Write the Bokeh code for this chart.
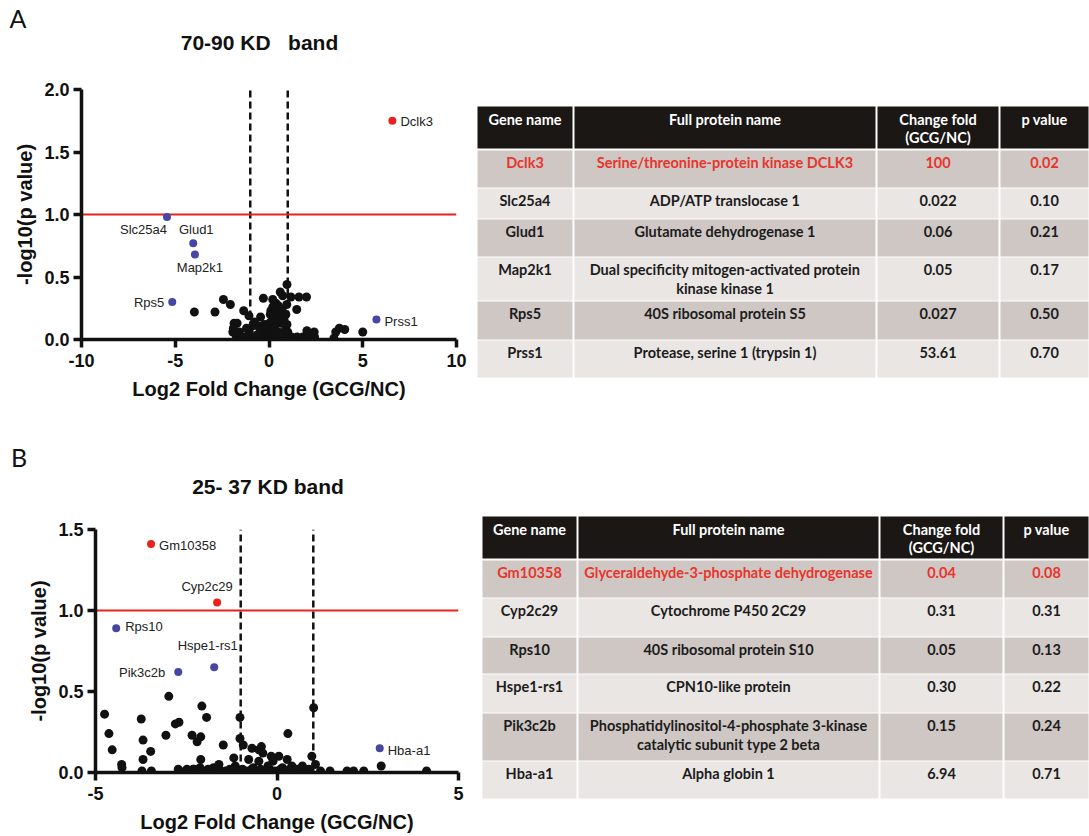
from bokeh.plotting import figure
from bokeh.models import Range1d, FixedTicker, NumeralTickFormatter, ColumnDataSource
from bokeh.layouts import row, column
from bokeh.embed import file_html
from bokeh.resources import INLINE
from bokeh.core.properties import value, field

# ---------------- data: panel A (70-90 KD band) ----------------
a_ns_x = [-3.98, -2.88, -2.43, -2.06, -1.35, -1.07, -0.30, 0.20, 0.37, 0.60,
          0.73, 0.96, 1.17, 1.60, 2.00, 1.48, 0.10, 0.20, 0.50, -0.45,
          -0.78, -1.86, -1.70, -1.93, -1.58, -1.05, -0.87, -0.60, -0.25, 0.02,
          0.28, 0.64, 0.90, 0.96, -0.45, -0.10, 0.20, 0.50, 0.85, -1.60,
          -1.30, -0.95, -0.70, -0.50, -0.30, -0.15, 0.00, 0.10, 0.25, 0.40,
          0.55, 0.70, 0.85, 1.00, 1.20, 1.50, 1.80, 2.02, 2.41, 2.43,
          2.15, 3.46, 3.56, 3.75, 4.04, 5.00, -0.20, 0.05, 0.35, 0.65,
          -0.60, 0.30, 0.45, 0.55, 0.80, -0.10, 0.15, 0.70, -1.20, 0.95,
          0.40, 1.00, 0.07, 0.28, -1.90, -1.75]
a_ns_y = [0.22, 0.22, 0.32, 0.28, 0.23, 0.19, 0.33, 0.32, 0.29, 0.38,
          0.35, 0.44, 0.34, 0.34, 0.34, 0.24, 0.23, 0.26, 0.27, 0.18,
          0.14, 0.13, 0.13, 0.06, 0.06, 0.06, 0.11, 0.11, 0.12, 0.13,
          0.12, 0.13, 0.20, 0.12, 0.07, 0.07, 0.06, 0.06, 0.07, 0.02,
          0.02, 0.02, 0.02, 0.02, 0.01, 0.02, 0.01, 0.03, 0.02, 0.01,
          0.02, 0.01, 0.02, 0.01, 0.02, 0.02, 0.02, 0.07, 0.06, 0.02,
          0.03, 0.01, 0.06, 0.09, 0.08, 0.06, 0.04, 0.05, 0.04, 0.04,
          0.04, 0.09, 0.16, 0.20, 0.16, 0.10, 0.15, 0.24, 0.09, 0.28,
          0.21, 0.06, 0.20, 0.26, 0.09, 0.03]
a_gene = ["Dclk3", "Slc25a4", "Glud1", "Map2k1", "Rps5", "Prss1"]
a_gene_x = [6.58, -5.44, -4.04, -3.95, -5.16, 5.73]
a_gene_y = [1.75, 0.98, 0.77, 0.68, 0.30, 0.16]
a_gene_sig = [True, False, False, False, False, False]

a_tab_protein = ["Serine/threonine-protein kinase DCLK3", "ADP/ATP translocase 1",
                 "Glutamate dehydrogenase 1",
                 "Dual specificity mitogen-activated protein\nkinase kinase 1",
                 "40S ribosomal protein S5", "Protease, serine 1 (trypsin 1)"]
a_tab_fold = ["100", "0.022", "0.06", "0.05", "0.027", "53.61"]
a_tab_p = ["0.02", "0.10", "0.21", "0.17", "0.50", "0.70"]
a_tab_highlight = [True, False, False, False, False, False]

# ---------------- data: panel B (25-37 KD band) ----------------
b_ns_x = [-4.75, -4.63, -4.54, -4.28, -4.27, -3.74, -3.69, -3.48, -3.69, -3.72,
          -3.46, -3.06, -2.98, -2.80, -2.70, -2.48, -2.34, -2.20, -2.10, -2.07,
          -1.94, -2.10, -2.12, -1.48, -1.19, -1.02, -1.02, -0.93, -0.69, -0.78,
          -0.43, -0.50, -0.39, -0.16, 0.05, -0.11, 0.28, -0.50, -1.15, 0.41,
          0.30, 1.01, 0.96, 1.06, 2.87, 4.12, -2.72, -2.52, -2.30, -2.05,
          -1.90, -1.75, -1.60, -1.42, -1.30, -1.10, -0.95, -0.85, -0.70, -0.60,
          -0.45, -0.30, -0.20, -0.05, 0.10, 0.20, 0.35, 0.50, 0.60, 0.75,
          0.88, 1.20, 1.46, 1.93, 2.11, 2.39, -1.75, -1.20, -0.65, 0.15,
          0.55, -2.30, -1.60, -0.25, 0.70]
b_ns_y = [0.36, 0.24, 0.14, 0.05, 0.03, 0.33, 0.20, 0.13, 0.08, 0.01,
          0.01, 0.23, 0.47, 0.30, 0.31, 0.02, 0.23, 0.19, 0.22, 0.41,
          0.34, 0.08, 0.03, 0.17, 0.09, 0.34, 0.21, 0.17, 0.15, 0.08,
          0.16, 0.14, 0.12, 0.10, 0.10, 0.07, 0.08, 0.07, 0.04, 0.04,
          0.24, 0.40, 0.10, 0.05, 0.04, 0.01, 0.02, 0.01, 0.02, 0.01,
          0.02, 0.01, 0.02, 0.01, 0.02, 0.01, 0.02, 0.01, 0.02, 0.01,
          0.02, 0.01, 0.02, 0.01, 0.02, 0.01, 0.02, 0.01, 0.02, 0.01,
          0.02, 0.01, 0.01, 0.01, 0.01, 0.01, 0.03, 0.02, 0.03, 0.03,
          0.02, 0.02, 0.05, 0.04, 0.04]
b_gene = ["Gm10358", "Cyp2c29", "Rps10", "Hspe1-rs1", "Pik3c2b", "Hba-a1"]
b_gene_x = [-3.47, -1.65, -4.43, -1.73, -2.72, 2.83]
b_gene_y = [1.41, 1.05, 0.89, 0.65, 0.62, 0.15]
b_gene_sig = [True, True, False, False, False, False]

b_tab_protein = ["Glyceraldehyde-3-phosphate dehydrogenase", "Cytochrome P450 2C29",
                 "40S ribosomal protein S10", "CPN10-like protein",
                 "Phosphatidylinositol-4-phosphate 3-kinase\ncatalytic subunit type 2 beta",
                 "Alpha globin 1"]
b_tab_fold = ["0.04", "0.31", "0.05", "0.30", "0.15", "6.94"]
b_tab_p = ["0.08", "0.31", "0.13", "0.22", "0.24", "0.71"]
b_tab_highlight = [True, False, False, False, False, False]

tab_headers = ["Gene name", "Full protein name", "Change fold\n(GCG/NC)", "p value"]
fold_thresholds = [-1, 1]
p_threshold = 1.0

# ---------------- styles ----------------
RED = "#E8231E"
BLUE = "#4747A3"
BLACK = "#111111"
AX_FONT = "Liberation Sans"
TAB_FONT = "Lato"
HEAD_FILL = "#1A1715"
DARK_FILL = "#CEC7C3"
LIGHT_FILL = "#EAE6E4"
TAB_RED = "#E8342C"
TAB_TXT = "#1C1C1C"


def no_align(p):
    if "frame_align" in p.properties():
        p.frame_align = False
    return p


def blank(w, h):
    p = figure(width=w, height=h, x_range=Range1d(0, w), y_range=Range1d(h, 0),
               output_backend="svg", toolbar_location=None, min_border=0,
               x_axis_location=None, y_axis_location=None)
    p.outline_line_color = None
    for g in p.grid:
        g.visible = False
    return no_align(p)


def header(w, h, letter, letter_xy, title, title_xy):
    p = blank(w, h)
    p.text(x=[letter_xy[0]], y=[letter_xy[1]], text=[letter], text_align="center",
           text_baseline="middle", text_font=value(TAB_FONT), text_font_size="25px",
           text_color=BLACK)
    # keep the wide gaps of the original title (SVG collapses plain spaces)
    shown = title.replace("   ", "\u00a0\u00a0\u00a0")
    p.text(x=[title_xy[0]], y=[title_xy[1]], text=[shown], text_align="center",
           text_baseline="middle", text_font=value(AX_FONT), text_font_style="bold",
           text_font_size="21px", text_color=BLACK)
    return p


def volcano(w, h, borders, xlim, ymax, xticks, yticks, ns_x, ns_y,
            gene, gx, gy, gsig, lab_dx, lab_dy, lab_al):
    bl, br, bt, bb = borders
    p = figure(width=w, height=h, x_range=Range1d(xlim[0], xlim[1]),
               y_range=Range1d(0, ymax), output_backend="svg",
               toolbar_location=None, min_border_left=bl, min_border_right=br,
               min_border_top=bt, min_border_bottom=bb)
    no_align(p)
    p.outline_line_color = None
    p.xgrid.visible = False
    p.ygrid.visible = False
    p.segment(x0=fold_thresholds, y0=[0, 0], x1=fold_thresholds, y1=[ymax, ymax],
              line_color=BLACK, line_width=2.5, line_dash="7 4")
    p.segment(x0=[xlim[0]], y0=[p_threshold], x1=[xlim[1]], y1=[p_threshold],
              line_color=RED, line_width=2)
    p.scatter(x=ns_x, y=ns_y, size=9, fill_color=BLACK, line_color=None)
    src = ColumnDataSource(dict(x=gx, y=gy, name=gene,
                                c=[RED if s else BLUE for s in gsig],
                                dx=lab_dx, dy=lab_dy, al=lab_al))
    p.scatter("x", "y", source=src, size=8, fill_color="c", line_color=None)
    p.text("x", "y", text="name", source=src, x_offset=field("dx"), y_offset=field("dy"),
           text_align=field("al"), text_baseline="middle", text_font=value(AX_FONT),
           text_font_size="13px", text_color="#222222")

    xa = p.xaxis[0]
    xa.bounds = tuple(xlim)
    xa.ticker = FixedTicker(ticks=xticks)
    xa.formatter = NumeralTickFormatter(format="0")
    xa.axis_label = "Log2 Fold Change (GCG/NC)"
    ya = p.yaxis[0]
    ya.bounds = (0, ymax)
    ya.ticker = FixedTicker(ticks=yticks)
    ya.formatter = NumeralTickFormatter(format="0.0")
    ya.axis_label = "-log10(p value)"
    for ax in (xa, ya):
        ax.axis_line_width = 3.5
        ax.axis_line_color = BLACK
        ax.major_tick_line_width = 3.5
        ax.major_tick_line_color = BLACK
        ax.major_tick_in = 0
        ax.major_tick_out = 8
        ax.minor_tick_line_color = None
        ax.major_label_text_font = AX_FONT
        ax.major_label_text_font_style = "bold"
        ax.major_label_text_font_size = "18px"
        ax.major_label_text_color = BLACK
        ax.major_label_standoff = 4
        ax.axis_label_text_font = AX_FONT
        ax.axis_label_text_font_style = "bold"
        ax.axis_label_text_font_size = "20px"
        ax.axis_label_text_color = BLACK
        ax.axis_label_standoff = 5
    xa.major_label_standoff = 6
    xa.axis_label_standoff = 8
    return p


def table(w, h, col_edges, head_top, head_bot, row_tops, row_bots, columns, highlight):
    t = blank(w, h)
    nc = len(col_edges) - 1
    L, R, T, B, F = [], [], [], [], []
    for c in range(nc):
        L.append(col_edges[c] + 1); R.append(col_edges[c + 1] - 1)
        T.append(head_top); B.append(head_bot); F.append(HEAD_FILL)
    for r, (rt, rb) in enumerate(zip(row_tops, row_bots)):
        for c in range(nc):
            L.append(col_edges[c] + 1); R.append(col_edges[c + 1] - 1)
            T.append(rt); B.append(rb); F.append(DARK_FILL if r % 2 == 0 else LIGHT_FILL)
    t.quad(left=L, right=R, top=T, bottom=B, fill_color=F, line_color=None)

    centers = [(col_edges[c] + col_edges[c + 1]) / 2 for c in range(nc)]
    tx, ty, tt, tc = [], [], [], []
    for c, hd in enumerate(tab_headers):
        for i, line in enumerate(hd.split("\n")):
            tx.append(centers[c]); ty.append(head_top + 13 + 18 * i)
            tt.append(line); tc.append("white")
    for r in range(len(row_tops)):
        for c in range(nc):
            for i, line in enumerate(columns[c][r].split("\n")):
                tx.append(centers[c]); ty.append(row_tops[r] + 12 + 19 * i)
                tt.append(line); tc.append(TAB_RED if highlight[r] else TAB_TXT)
    t.text(x=tx, y=ty, text=tt, text_color=tc, text_align="center",
           text_baseline="middle", text_font=value(TAB_FONT), text_font_style="bold",
           text_font_size="14.5px")
    return t


W = 1089
hA = header(W, 60, "A", (17.5, 17), "70-90 KD   band", (259, 42))
pA = volcano(470, 380, (81, 14, 29, 101), (-10, 10), 2.0,
             [-10, -5, 0, 5, 10], [0, 0.5, 1.0, 1.5, 2.0], a_ns_x, a_ns_y,
             a_gene, a_gene_x, a_gene_y, a_gene_sig,
             [8, 0, 3, 5, -8, 8], [1, 12, -14, 12.5, 0, 1.5],
             ["left", "right", "center", "center", "right", "left"])
tA = table(619, 380, [6, 103, 406, 529, 619], 46, 88,
           [90, 128, 159, 197, 241, 280], [127, 158, 196, 240, 279, 317],
           [a_gene, a_tab_protein, a_tab_fold, a_tab_p], a_tab_highlight)

hB = header(W, 60, "B", (18.5, 16), "25- 37 KD band", (267.5, 46))
pB = volcano(470, 336, (95, 12, 29, 64), (-5, 5), 1.5,
             [-5, 0, 5], [0, 0.5, 1.0, 1.5], b_ns_x, b_ns_y,
             b_gene, b_gene_x, b_gene_y, b_gene_sig,
             [8, -10, 9, -6.5, -13, 8], [1, -16, -1.5, -22, 0, 2],
             ["left", "center", "left", "center", "right", "left"])
tB = table(619, 336, [11, 107, 409, 533, 619], 16, 58,
           [60, 98, 137, 174, 213, 261], [97, 136, 173, 212, 260, 298],
           [b_gene, b_tab_protein, b_tab_fold, b_tab_p], b_tab_highlight)

layout = column(hA, row(pA, tA), hB, row(pB, tB))
open("out.html", "w").write(file_html(layout, INLINE))
